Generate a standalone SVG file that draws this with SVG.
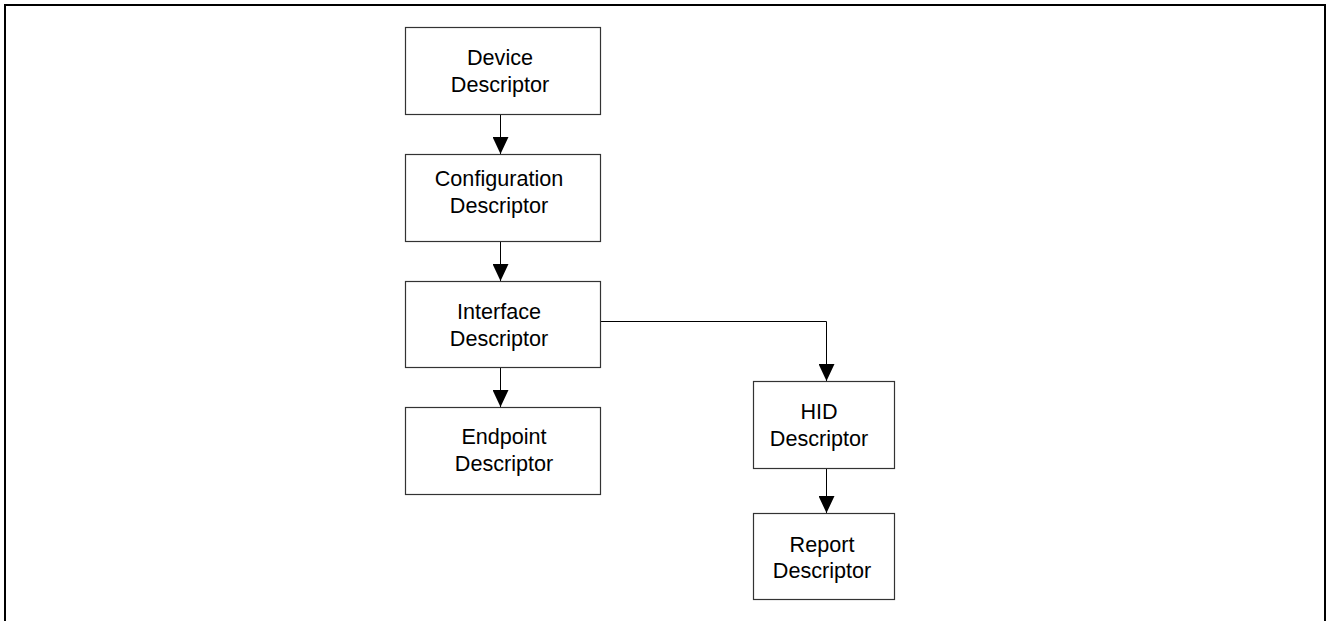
<svg xmlns="http://www.w3.org/2000/svg" width="1327" height="621" viewBox="0 0 1327 621">
  <style>
    .box { fill: #ffffff; stroke: #333333; stroke-width: 1.2; }
    .lbl { font-family: "Liberation Sans", Arial, sans-serif; font-size: 21.6px; fill: #000000; text-anchor: middle; }
    .wire { fill: none; stroke: #000000; stroke-width: 1; }
  </style>
  <defs>
    <marker id="arrow" markerUnits="userSpaceOnUse" markerWidth="17" markerHeight="16" viewBox="0 0 17 16" refX="17" refY="8" orient="auto">
      <path d="M0,0 L17,8 L0,16 Z" fill="#000000"/>
    </marker>
  </defs>

  <!-- page frame -->
  <rect x="5" y="5" width="1320" height="640" fill="none" stroke="#000000" stroke-width="2"/>

  <!-- connectors -->
  <g id="connectors">
    <path class="wire" d="M500.5,114 V154" marker-end="url(#arrow)"/>
    <path class="wire" d="M500.5,241 V281" marker-end="url(#arrow)"/>
    <path class="wire" d="M500.5,367 V407" marker-end="url(#arrow)"/>
    <path class="wire" d="M600,321.5 H826.5 V381" marker-end="url(#arrow)"/>
    <path class="wire" d="M826.5,468 V513" marker-end="url(#arrow)"/>
  </g>

  <g id="device">
    <rect class="box" x="405.5" y="27.5" width="195" height="87"/>
    <text class="lbl" x="500" y="65">Device</text>
    <text class="lbl" x="500" y="92">Descriptor</text>
  </g>

  <g id="configuration">
    <rect class="box" x="405.5" y="154.5" width="195" height="87"/>
    <text class="lbl" x="499" y="186">Configuration</text>
    <text class="lbl" x="499" y="213">Descriptor</text>
  </g>

  <g id="interface">
    <rect class="box" x="405.5" y="281.5" width="195" height="86"/>
    <text class="lbl" x="499" y="319">Interface</text>
    <text class="lbl" x="499" y="346">Descriptor</text>
  </g>

  <g id="endpoint">
    <rect class="box" x="405.5" y="407.5" width="195" height="87"/>
    <text class="lbl" x="504" y="444">Endpoint</text>
    <text class="lbl" x="504" y="471">Descriptor</text>
  </g>

  <g id="hid">
    <rect class="box" x="753.5" y="381.5" width="141" height="87"/>
    <text class="lbl" x="819" y="419">HID</text>
    <text class="lbl" x="819" y="446">Descriptor</text>
  </g>

  <g id="report">
    <rect class="box" x="753.5" y="513.5" width="141" height="86"/>
    <text class="lbl" x="822" y="552">Report</text>
    <text class="lbl" x="822" y="578">Descriptor</text>
  </g>
</svg>
